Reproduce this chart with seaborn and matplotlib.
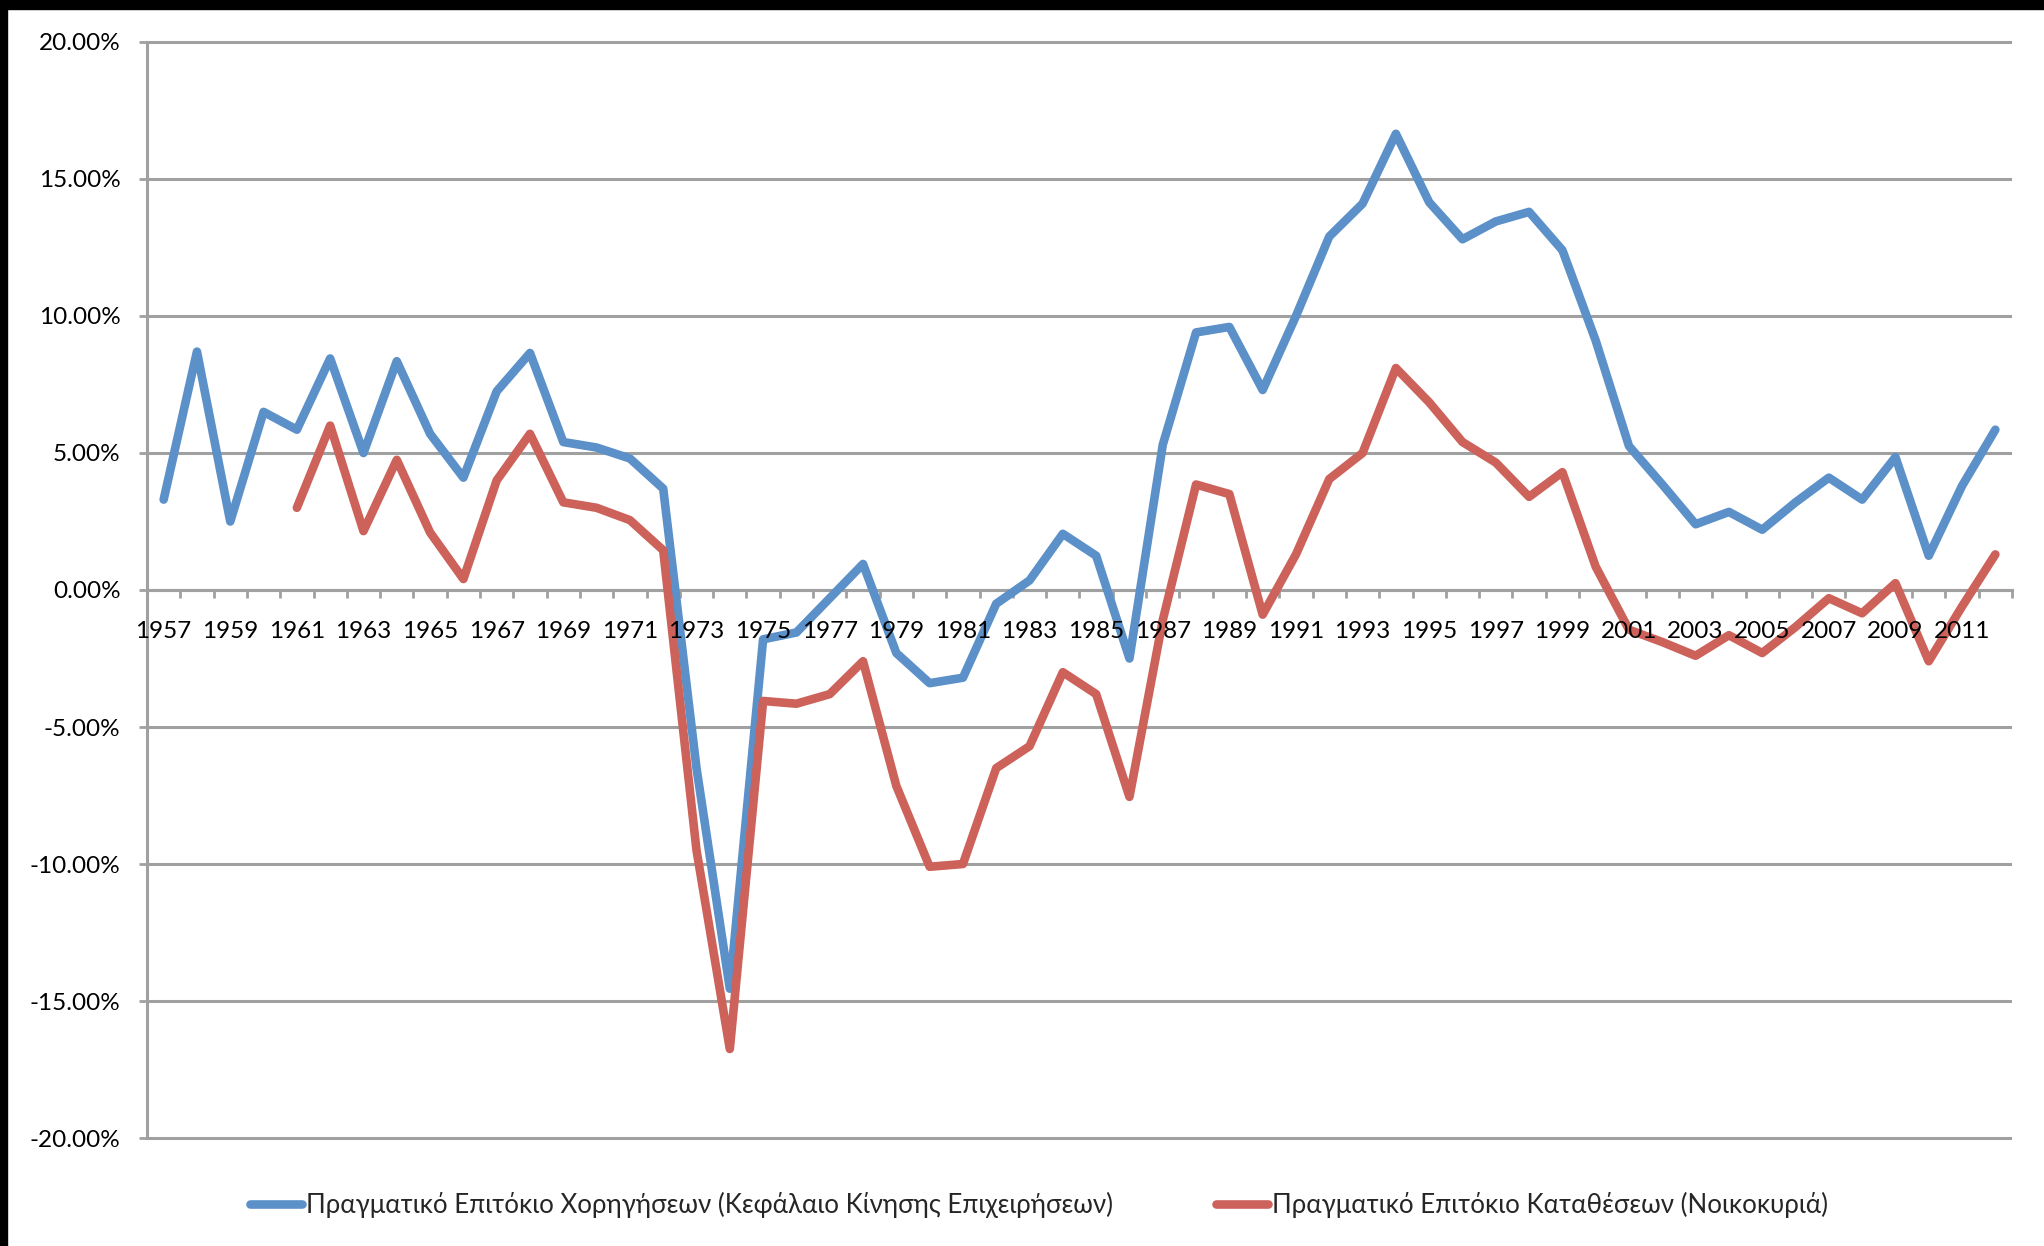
import pandas as pd
import seaborn as sns
import matplotlib.pyplot as plt
from matplotlib.lines import Line2D
from matplotlib.patches import Rectangle
from matplotlib.ticker import FuncFormatter, FixedLocator

# data (values in %)
years = list(range(1957, 2013))

loans = [3.3, 8.7, 2.5, 6.5, 5.85, 8.45, 5.0, 8.35, 5.7, 4.1,
         7.25, 8.65, 5.4, 5.2, 4.8, 3.7, -6.5, -14.55, -1.8, -1.55,
         -0.3, 0.95, -2.3, -3.4, -3.2, -0.5, 0.35, 2.05, 1.25, -2.5,
         5.3, 9.4, 9.6, 7.3, 10.0, 12.9, 14.1, 16.65, 14.15, 12.8,
         13.45, 13.8, 12.4, 9.1, 5.25, 3.85, 2.4, 2.85, 2.2, 3.2,
         4.1, 3.3, 4.85, 1.25, 3.8, 5.85]

deposits = [None, None, None, None, 3.0, 6.0, 2.15, 4.75, 2.1, 0.4,
            4.0, 5.7, 3.2, 3.0, 2.55, 1.45, -9.5, -16.75, -4.05, -4.15,
            -3.8, -2.6, -7.15, -10.1, -10.0, -6.5, -5.7, -3.0, -3.8, -7.55,
            -1.1, 3.85, 3.5, -0.9, 1.3, 4.05, 5.0, 8.1, 6.85, 5.4,
            4.65, 3.4, 4.3, 0.85, -1.45, -1.9, -2.4, -1.65, -2.3, -1.35,
            -0.3, -0.85, 0.25, -2.6, -0.6, 1.3]

label_loans = 'Πραγματικό Επιτόκιο Χορηγήσεων (Κεφάλαιο Κίνησης Επιχειρήσεων)'
label_deposits = 'Πραγματικό Επιτόκιο Καταθέσεων (Νοικοκυριά)'
colors = {label_loans: '#5B90C8', label_deposits: '#CC625A'}

df = pd.concat([
    pd.DataFrame({'year': years, 'rate': loans, 'series': label_loans}),
    pd.DataFrame({'year': years, 'rate': deposits, 'series': label_deposits}),
]).dropna()

sns.set_style('white')
plt.rcParams['font.family'] = ['Lato', 'Noto Sans', 'DejaVu Sans']

W, H = 2044, 1246
fig = plt.figure(figsize=(W / 100, H / 100), dpi=100)
ax = fig.add_axes([147 / W, 1 - 1143.5 / H, 1865 / W, 1107 / H])

grid_col = '#a0a0a0'
lw_line = 6.2

sns.lineplot(data=df, x='year', y='rate', hue='series', palette=colors,
             sort=False, legend=False, ax=ax, lw=lw_line,
             solid_capstyle='round', solid_joinstyle='round', zorder=3)

ax.set_xlim(1956.5, 2012.5)
ax.set_ylim(-20.2, 20.2)
ax.set_xlabel('')
ax.set_ylabel('')

# y axis
ax.set_yticks(range(-20, 21, 5))
ax.yaxis.set_major_formatter(FuncFormatter(lambda v, p: f'{v:.2f}%'))
ax.yaxis.grid(True, color=grid_col, lw=2.2)
ax.xaxis.grid(False)
ax.tick_params(axis='y', length=6, width=2, color=grid_col, pad=13,
               labelsize=17.5, labelcolor='black', left=True)

# x axis on the zero line
ax.spines['bottom'].set_position(('data', 0))
ax.spines['left'].set_bounds(-20, 20)
for s in ['left', 'bottom']:
    ax.spines[s].set_color(grid_col)
    ax.spines[s].set_linewidth(2.2)
for s in ['top', 'right']:
    ax.spines[s].set_visible(False)

ax.set_xticks([])
ax.xaxis.set_minor_locator(FixedLocator([y - 0.5 for y in years] + [2012.5]))
ax.tick_params(axis='x', which='minor', length=6, width=2, color=grid_col,
               bottom=True)

# year labels every other year, drawn on top of the lines
for y in years[::2]:
    ax.annotate(str(y), xy=(y, 0), xytext=(0, -22), textcoords='offset points',
                ha='center', va='top', fontsize=17.5, color='black',
                zorder=5, annotation_clip=False)

# legend
handles = [Line2D([], [], color=colors[k], lw=lw_line, solid_capstyle='round')
           for k in [label_loans, label_deposits]]
fig.legend(handles, [label_loans, label_deposits], loc='center',
           bbox_to_anchor=(0.5 + 17 / W, 1 - 1205 / H), ncol=2, frameon=False,
           fontsize=18.6, handlelength=2.0, handletextpad=0.15, columnspacing=4.0)

# black frame on top and left edges
fig.patches.append(Rectangle((0, 1 - 9 / H), 1, 9 / H, transform=fig.transFigure,
                             color='black', zorder=10))
fig.patches.append(Rectangle((0, 0), 7 / W, 1, transform=fig.transFigure,
                             color='black', zorder=10))

fig.savefig('out.png', dpi=100, facecolor='white')
